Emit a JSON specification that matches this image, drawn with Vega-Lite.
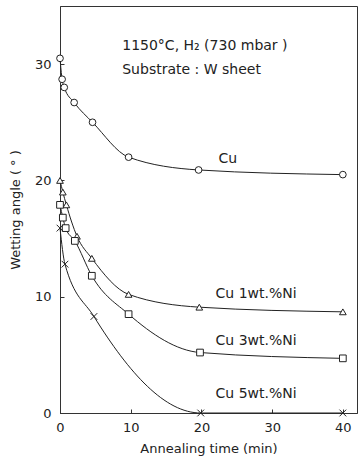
{
  "$schema": "https://vega.github.io/schema/vega-lite/v6.json",
  "width": 297,
  "height": 407,
  "autosize": {"type": "none"},
  "padding": {"left": 60, "top": 6, "right": 5, "bottom": 48},
  "config": {
    "view": {"stroke": "#333", "strokeWidth": 1},
    "font": "DejaVu Sans",
    "axis": {
      "domainColor": "#333",
      "tickColor": "#333",
      "labelColor": "#222",
      "titleColor": "#222",
      "labelFontSize": 13,
      "titleFontSize": 13,
      "titleFontWeight": "normal",
      "grid": false
    }
  },
  "datasets": {
    "pts": [
      {"series": "Cu", "t": 0, "angle": 30.5},
      {"series": "Cu", "t": 0.3, "angle": 28.7},
      {"series": "Cu", "t": 0.6, "angle": 28.0},
      {"series": "Cu", "t": 2, "angle": 26.7},
      {"series": "Cu", "t": 4.6, "angle": 25.0},
      {"series": "Cu", "t": 9.7, "angle": 22.0},
      {"series": "Cu", "t": 19.6, "angle": 20.9},
      {"series": "Cu", "t": 40, "angle": 20.5},
      {"series": "Cu 1wt.%Ni", "t": 0, "angle": 20.0},
      {"series": "Cu 1wt.%Ni", "t": 0.4, "angle": 19.0},
      {"series": "Cu 1wt.%Ni", "t": 0.9, "angle": 17.9},
      {"series": "Cu 1wt.%Ni", "t": 2.4, "angle": 15.2},
      {"series": "Cu 1wt.%Ni", "t": 4.5, "angle": 13.3},
      {"series": "Cu 1wt.%Ni", "t": 9.7, "angle": 10.2},
      {"series": "Cu 1wt.%Ni", "t": 19.7, "angle": 9.1},
      {"series": "Cu 1wt.%Ni", "t": 40, "angle": 8.7},
      {"series": "Cu 3wt.%Ni", "t": 0, "angle": 17.9},
      {"series": "Cu 3wt.%Ni", "t": 0.4, "angle": 16.8},
      {"series": "Cu 3wt.%Ni", "t": 0.8, "angle": 15.9},
      {"series": "Cu 3wt.%Ni", "t": 2.1, "angle": 14.8},
      {"series": "Cu 3wt.%Ni", "t": 4.5, "angle": 11.8},
      {"series": "Cu 3wt.%Ni", "t": 9.7, "angle": 8.5},
      {"series": "Cu 3wt.%Ni", "t": 19.8, "angle": 5.2},
      {"series": "Cu 3wt.%Ni", "t": 40, "angle": 4.7},
      {"series": "Cu 5wt.%Ni", "t": 0, "angle": 15.9},
      {"series": "Cu 5wt.%Ni", "t": 0.7, "angle": 12.8},
      {"series": "Cu 5wt.%Ni", "t": 4.8, "angle": 8.3},
      {"series": "Cu 5wt.%Ni", "t": 19.9, "angle": 0},
      {"series": "Cu 5wt.%Ni", "t": 40, "angle": 0}
    ],
    "labels": [
      {"t": 22.4, "angle": 21.8, "text": "Cu"},
      {"t": 22.0, "angle": 10.2, "text": "Cu 1wt.%Ni"},
      {"t": 22.0, "angle": 6.2, "text": "Cu 3wt.%Ni"},
      {"t": 22.0, "angle": 1.6, "text": "Cu 5wt.%Ni"},
      {"t": 8.8, "angle": 31.6, "text": "1150°C, H₂ (730 mbar )"},
      {"t": 8.8, "angle": 29.5, "text": "Substrate :  W sheet"}
    ]
  },
  "encoding": {
    "x": {
      "field": "t",
      "type": "quantitative",
      "scale": {"domain": [0, 42], "nice": false, "zero": false},
      "axis": {"values": [0, 10, 20, 30, 40], "title": "Annealing time (min)", "tickSize": -4, "labelPadding": 12, "titlePadding": 8, "labelFlush": false}
    },
    "y": {
      "field": "angle",
      "type": "quantitative",
      "scale": {"domain": [0, 35], "nice": false},
      "axis": {"values": [0, 10, 20, 30], "title": "Wetting angle ( ° )", "tickSize": -4, "labelPadding": 13, "titlePadding": 12, "labelFlush": false}
    }
  },
  "layer": [
    {
      "data": {"name": "pts"},
      "mark": {"type": "line", "interpolate": "monotone", "color": "#222", "strokeWidth": 1},
      "encoding": {"detail": {"field": "series"}}
    },
    {
      "data": {"name": "pts"},
      "mark": {"type": "point", "filled": false, "fill": "white", "fillOpacity": 1, "stroke": "#222", "strokeWidth": 1, "size": 45, "opacity": 1},
      "encoding": {
        "shape": {
          "field": "series",
          "type": "nominal",
          "scale": {"domain": ["Cu", "Cu 1wt.%Ni", "Cu 3wt.%Ni", "Cu 5wt.%Ni"], "range": ["circle", "triangle-up", "square", "M-1,-1L1,1M-1,1L1,-1"]},
          "legend": null
        }
      }
    },
    {
      "data": {"name": "labels"},
      "mark": {"type": "text", "align": "left", "baseline": "middle", "fontSize": 14, "color": "#222"},
      "encoding": {"text": {"field": "text"}}
    }
  ]
}
